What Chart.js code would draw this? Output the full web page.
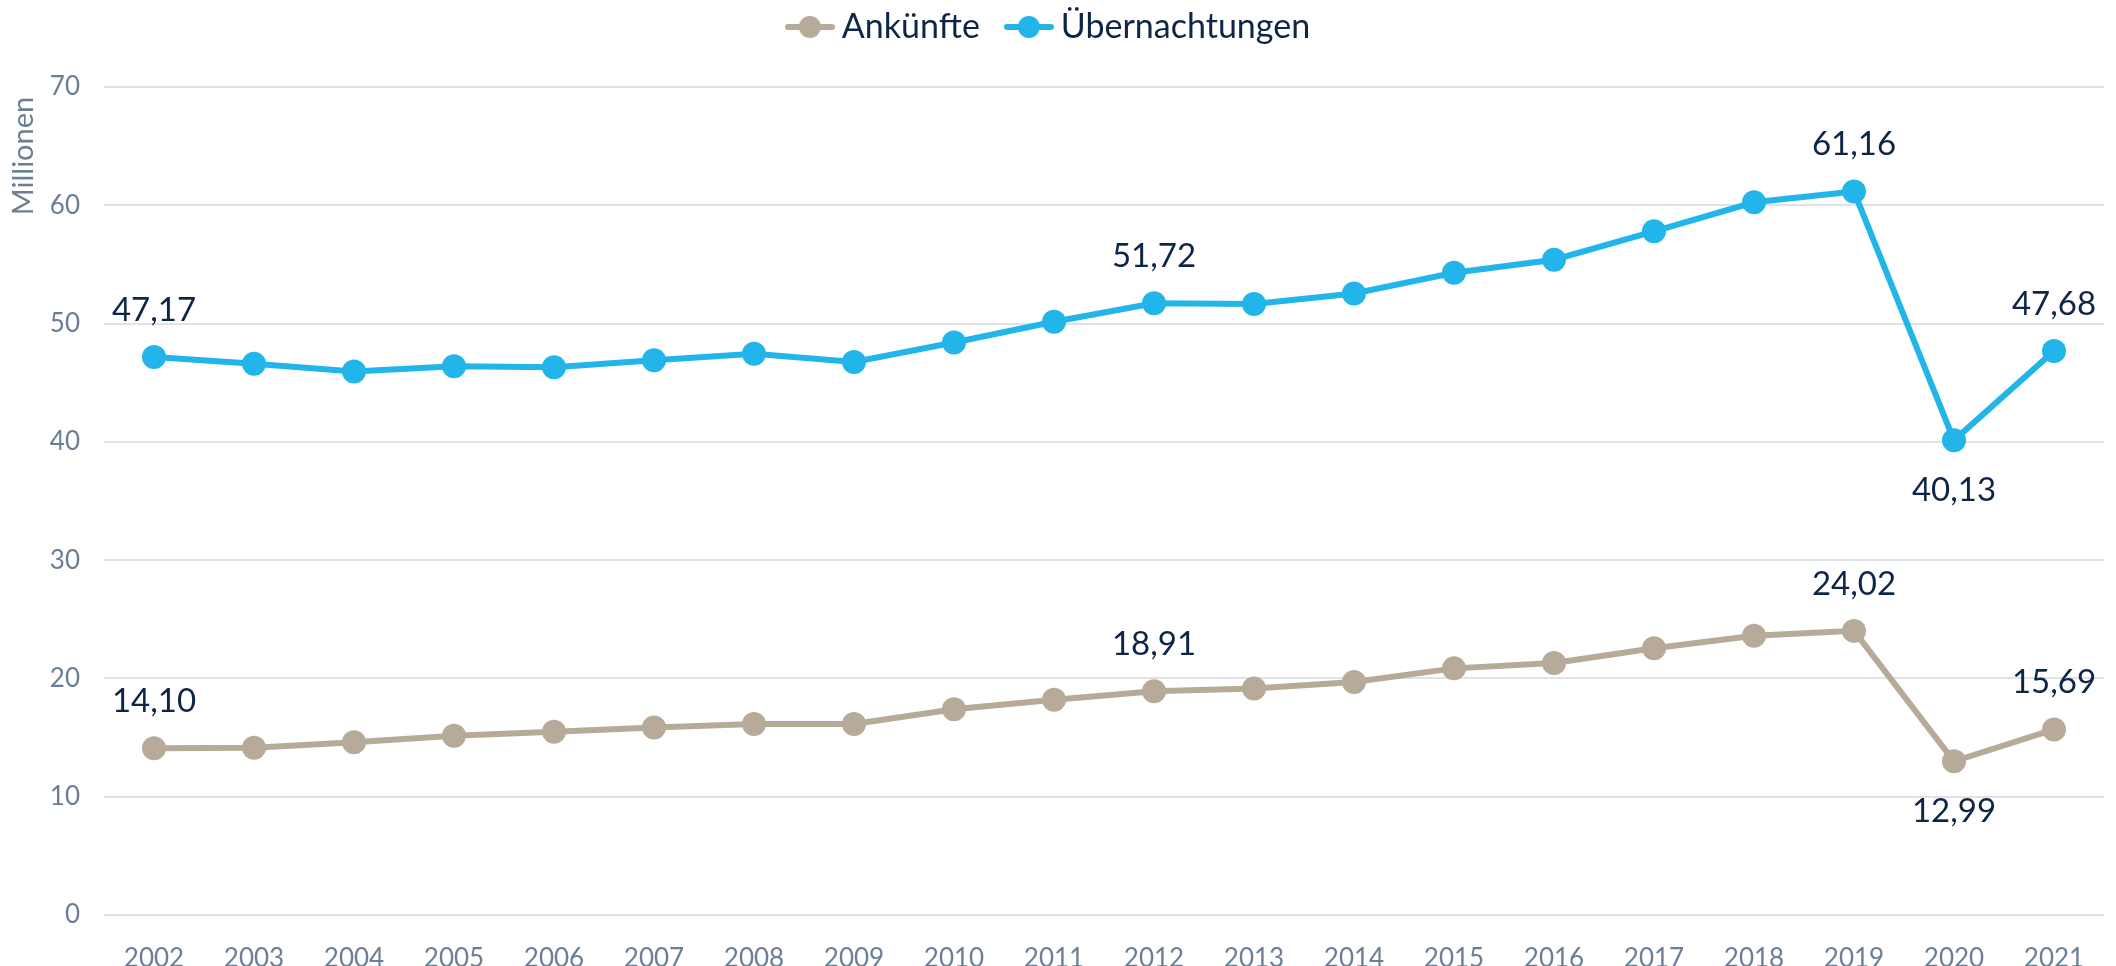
<!DOCTYPE html>
<html>
<head>
<meta charset="utf-8">
<script src="https://cdn.jsdelivr.net/npm/chart.js@4/dist/chart.umd.min.js"></script>
<style>
  html, body { margin: 0; padding: 0; background: #fff; }
  #wrap { width: 2116px; height: 966px; }
</style>
</head>
<body>
<div id="wrap"><canvas id="c" width="2116" height="966"></canvas></div>
<script>
const years = ['2002','2003','2004','2005','2006','2007','2008','2009','2010','2011',
               '2012','2013','2014','2015','2016','2017','2018','2019','2020','2021'];
const ankuenfte = [14.10, 14.14, 14.6, 15.15, 15.5, 15.85, 16.15, 16.15, 17.4, 18.2,
                   18.91, 19.15, 19.7, 20.85, 21.3, 22.55, 23.6, 24.02, 12.99, 15.69];
const uebernachtungen = [47.17, 46.6, 45.95, 46.4, 46.3, 46.9, 47.45, 46.75, 48.4, 50.15,
                         51.72, 51.65, 52.55, 54.3, 55.4, 57.8, 60.25, 61.16, 40.13, 47.68];
const labelIdx = [0, 10, 17, 18, 19];
const belowIdx = [18];

const blue = '#22B5E9';
const beige = '#B8AA98';
const navy = '#0F2548';
const slate = '#6B7E95';
const font = 'Lato, "Open Sans", sans-serif';

function legendIcon(color) {
  const cv = document.createElement('canvas');
  cv.width = 50; cv.height = 24;
  const g = cv.getContext('2d');
  g.strokeStyle = color; g.lineWidth = 6; g.lineCap = 'round';
  g.beginPath(); g.moveTo(3, 12); g.lineTo(47, 12); g.stroke();
  g.fillStyle = color;
  g.beginPath(); g.arc(25, 12, 11, 0, Math.PI * 2); g.fill();
  return cv;
}

// extra room under the legend
const legendGap = {
  id: 'legendGap',
  beforeInit(chart) {
    const fit = chart.legend.fit;
    chart.legend.fit = function () {
      fit.bind(chart.legend)();
      this.height += 33;
    };
  }
};

const valueLabels = {
  id: 'valueLabels',
  afterDatasetsDraw(chart) {
    const ctx = chart.ctx;
    ctx.save();
    ctx.font = '33px ' + font;
    ctx.fillStyle = navy;
    ctx.textAlign = 'center';
    ctx.textBaseline = 'middle';
    chart.data.datasets.forEach((ds, di) => {
      const meta = chart.getDatasetMeta(di);
      labelIdx.forEach(i => {
        const pt = meta.data[i];
        const below = belowIdx.includes(i);
        const txt = ds.data[i].toFixed(2).replace('.', ',');
        ctx.fillText(txt, pt.x, pt.y + (below ? 50 : -47));
      });
    });
    ctx.restore();
  },
  afterDraw(chart) {
    const ctx = chart.ctx;
    ctx.save();
    ctx.font = '29px ' + font;
    ctx.fillStyle = slate;
    ctx.textAlign = 'center';
    ctx.textBaseline = 'middle';
    ctx.translate(24, 156);
    ctx.rotate(-Math.PI / 2);
    ctx.fillText('Millionen', 0, 0);
    ctx.restore();
  }
};

new Chart(document.getElementById('c').getContext('2d'), {
  type: 'line',
  data: {
    labels: years,
    datasets: [
      {
        label: 'Ankünfte',
        data: ankuenfte,
        borderColor: beige,
        backgroundColor: beige,
        borderWidth: 6,
        pointRadius: 12,
        pointHoverRadius: 12,
        pointBackgroundColor: beige,
        pointBorderWidth: 0,
        tension: 0
      },
      {
        label: 'Übernachtungen',
        data: uebernachtungen,
        borderColor: blue,
        backgroundColor: blue,
        borderWidth: 6,
        pointRadius: 12,
        pointHoverRadius: 12,
        pointBackgroundColor: blue,
        pointBorderWidth: 0,
        tension: 0
      }
    ]
  },
  options: {
    responsive: false,
    animation: false,
    layout: { padding: { top: -24, right: 11, left: 0, bottom: 0 } },
    plugins: {
      tooltip: { enabled: false },
      legend: {
        position: 'top',
        labels: {
          usePointStyle: true,
          pointStyleWidth: 30,
          boxHeight: 24,
          padding: 34,
          color: navy,
          font: { family: font, size: 34 },
          generateLabels(chart) {
            return chart.data.datasets.map((ds, i) => ({
              text: ds.label,
              fillStyle: ds.borderColor,
              strokeStyle: ds.borderColor,
              fontColor: navy,
              lineWidth: 0,
              pointStyle: legendIcon(ds.borderColor),
              hidden: false,
              datasetIndex: i
            }));
          }
        }
      }
    },
    scales: {
      x: {
        offset: true,
        grid: { display: false },
        border: { display: false },
        ticks: { color: slate, font: { family: font, size: 26 }, padding: 20, maxRotation: 0 },
        afterFit(s) { s.height = 51; }
      },
      y: {
        min: 0,
        max: 70,
        grid: { color: '#DFE3E8', lineWidth: 2, drawTicks: false },
        border: { display: false },
        ticks: { stepSize: 10, color: slate, font: { family: font, size: 26 }, padding: 24 },
        afterFit(s) { s.width = 104; }
      }
    }
  },
  plugins: [legendGap, valueLabels]
});
</script>
</body>
</html>
